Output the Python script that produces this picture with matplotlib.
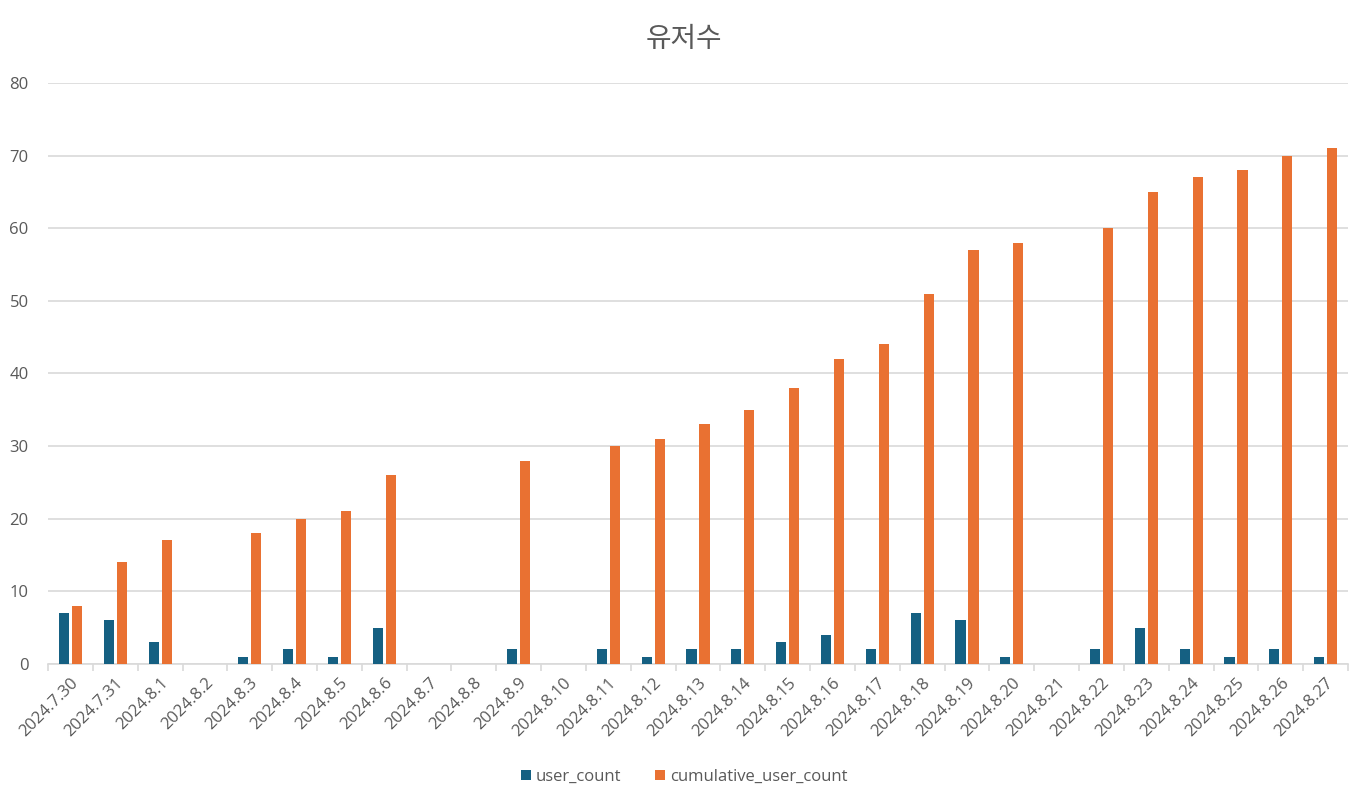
import numpy as np
import matplotlib.pyplot as plt

plt.rcParams['font.family'] = ['Open Sans', 'Noto Sans CJK KR', 'DejaVu Sans']

# data
dates = ['2024.7.30', '2024.7.31'] + ['2024.8.%d' % d for d in range(1, 28)]
user_count = [7, 6, 3, 0, 1, 2, 1, 5, 0, 0, 2, 0, 2, 1, 2, 2, 3, 4, 2, 7, 6, 1, 0, 2, 5, 2, 1, 2, 1]
cumulative_user_count = [8, 14, 17, 0, 18, 20, 21, 26, 0, 0, 28, 0, 30, 31, 33, 35, 38, 42, 44, 51,
                         57, 58, 0, 60, 65, 67, 68, 70, 71]
yticks = [0, 10, 20, 30, 40, 50, 60, 70, 80]

blue = '#156082'
orange = '#E97132'
txt = '#595959'
grid = '#D9D9D9'

fig = plt.figure(figsize=(13.68, 7.98), dpi=100)
ax = fig.add_axes([0.0351, 0.168, 0.9503, 0.728])

x = np.arange(len(dates))
w = 0.225
gap = 0.065
ax.bar(x - (w + gap) / 2, user_count, w, color=blue, label='user_count', zorder=3)
ax.bar(x + (w + gap) / 2, cumulative_user_count, w, color=orange, label='cumulative_user_count', zorder=3)

ax.set_xlim(-0.5, len(dates) - 0.5)
ax.set_ylim(0, 80)
ax.set_yticks(yticks)
ax.yaxis.grid(True, color=grid, linewidth=1.2, zorder=0)
ax.tick_params(axis='y', length=0, labelsize=12, labelcolor=txt, pad=14)

ax.set_xticks(x)
ax.set_xticklabels(dates, rotation=45, ha='right', rotation_mode='anchor', fontsize=12, color=txt)
ax.set_xticks(np.arange(len(dates) + 1) - 0.5, minor=True)
ax.tick_params(axis='x', which='major', length=0, pad=8)
ax.tick_params(axis='x', which='minor', length=5, color=grid, width=1.2)

for s in ['top', 'right', 'left']:
    ax.spines[s].set_visible(False)
ax.spines['bottom'].set_color(grid)
ax.spines['bottom'].set_linewidth(1.2)

fig.suptitle('유저수', y=0.97, fontsize=20, color=txt, family=['Noto Sans CJK KR'])
fig.legend(loc='lower center', bbox_to_anchor=(0.5, 0.0), ncol=2, frameon=False,
           fontsize=12, labelcolor=txt, handlelength=0.6, handleheight=0.6,
           handletextpad=0.3, columnspacing=2.0, borderaxespad=0.4)

fig.savefig('out.png', dpi=100)
